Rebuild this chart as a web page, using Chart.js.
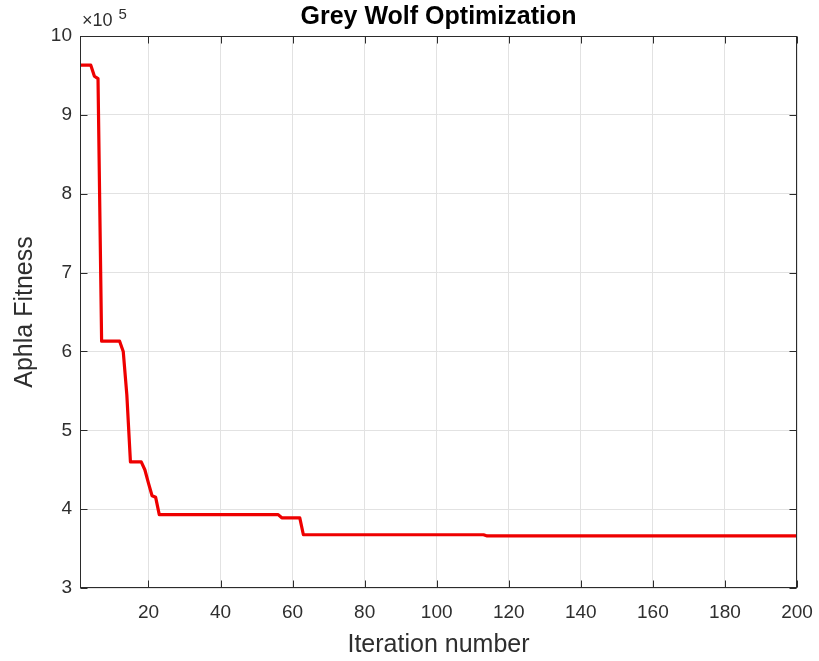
<!DOCTYPE html>
<html>
<head>
<meta charset="utf-8">
<script src="https://cdn.jsdelivr.net/npm/chart.js@4/dist/chart.umd.min.js"></script>
<style>
  html, body { margin: 0; padding: 0; background: #fff; }
  #wrap { width: 819px; height: 661px; }
</style>
</head>
<body>
<div id="wrap"><canvas id="c" width="819" height="661"></canvas></div>
<script>
// Best-so-far alpha fitness per iteration (only the iterations where the curve changes)
const iterations = [1, 4, 5, 6, 7, 12, 13, 14, 15, 18, 19, 20, 21, 22, 23, 56, 57, 62, 63, 113, 114, 200];
const fitness = [963000, 963000, 949000, 946000, 613000, 613000, 600000, 545000, 460000, 460000, 450000,
                 433000, 417000, 415000, 393000, 393000, 389000, 389000, 367500, 367500, 366000, 366000];

const xTicks = [20, 40, 60, 80, 100, 120, 140, 160, 180, 200];
const yTicks = [3, 4, 5, 6, 7, 8, 9, 10];
const yScaleFactor = 1e5;

const TEXT = '#2e2e2e';
const FONT = 'Liberation Sans, Arial, Helvetica, sans-serif';

const points = iterations.map((it, i) => ({ x: it, y: fitness[i] }));

// Axes box with inward tick marks on all four sides, title and exponent label
const frame = {
  id: 'frame',
  afterDraw(chart) {
    const { ctx, chartArea: a, scales } = chart;
    const L = Math.round(a.left) + 0.5, R = Math.round(a.right) - 0.5;
    const T = Math.round(a.top) + 0.5, B = Math.round(a.bottom) - 0.5;
    const tl = 7;
    ctx.save();
    ctx.strokeStyle = '#2b2b2b';
    ctx.lineWidth = 1;
    ctx.strokeRect(L, T, R - L, B - T);
    ctx.beginPath();
    xTicks.forEach(v => {
      const px = Math.round(scales.x.getPixelForValue(v)) + 0.5;
      ctx.moveTo(px, B); ctx.lineTo(px, B - tl);
      ctx.moveTo(px, T); ctx.lineTo(px, T + tl);
    });
    yTicks.forEach(v => {
      const py = Math.round(scales.y.getPixelForValue(v * yScaleFactor)) + 0.5;
      ctx.moveTo(L, py); ctx.lineTo(L + tl, py);
      ctx.moveTo(R, py); ctx.lineTo(R - tl, py);
    });
    ctx.stroke();

    // title
    ctx.fillStyle = '#000';
    ctx.font = 'bold 25px ' + FONT;
    ctx.textAlign = 'center';
    ctx.textBaseline = 'middle';
    ctx.fillText('Grey Wolf Optimization', (a.left + a.right) / 2, 17);

    // exponent label
    ctx.fillStyle = TEXT;
    ctx.textAlign = 'left';
    ctx.textBaseline = 'alphabetic';
    ctx.font = '18px ' + FONT;
    ctx.fillText('\u00d710', a.left + 2, 26);
    const w = ctx.measureText('\u00d710').width;
    ctx.font = '15px ' + FONT;
    ctx.fillText('5', a.left + 8 + w, 19);
    ctx.restore();
  }
};

new Chart(document.getElementById('c'), {
  type: 'line',
  data: {
    datasets: [{
      data: points,
      borderColor: '#ee0000',
      borderWidth: 3.2,
      borderJoinStyle: 'round',
      pointRadius: 0,
      tension: 0,
      fill: false
    }]
  },
  options: {
    responsive: false,
    animation: false,
    events: [],
    layout: { padding: { left: 0, right: 22, top: 36, bottom: 0 } },
    plugins: { legend: { display: false }, tooltip: { enabled: false } },
    scales: {
      x: {
        type: 'linear',
        min: 1,
        max: 200,
        afterBuildTicks(scale) { scale.ticks = xTicks.map(v => ({ value: v })); },
        afterFit(scale) { scale.height = 73; scale.paddingLeft = 0; scale.paddingRight = 0; },
        grid: { color: '#e2e2e2', lineWidth: 1, drawTicks: false },
        border: { display: false },
        ticks: { color: TEXT, font: { family: FONT, size: 19 }, padding: 13, maxRotation: 0, autoSkip: false },
        title: { display: true, text: 'Iteration number', color: TEXT, font: { family: FONT, size: 25 }, padding: { top: 0, bottom: 1 } }
      },
      y: {
        type: 'linear',
        min: 3 * yScaleFactor,
        max: 10 * yScaleFactor,
        afterBuildTicks(scale) { scale.ticks = yTicks.map(v => ({ value: v * yScaleFactor })); },
        afterFit(scale) { scale.width = 80; scale.paddingTop = 0; scale.paddingBottom = 0; },
        grid: { color: '#e2e2e2', lineWidth: 1, drawTicks: false },
        border: { display: false },
        ticks: { color: TEXT, font: { family: FONT, size: 19 }, padding: 8, callback: v => String(v / yScaleFactor) },
        title: { display: true, text: 'Aphla Fitness', color: TEXT, font: { family: FONT, size: 25 }, padding: { top: 10, bottom: 0 } }
      }
    }
  },
  plugins: [frame]
});
</script>
</body>
</html>
